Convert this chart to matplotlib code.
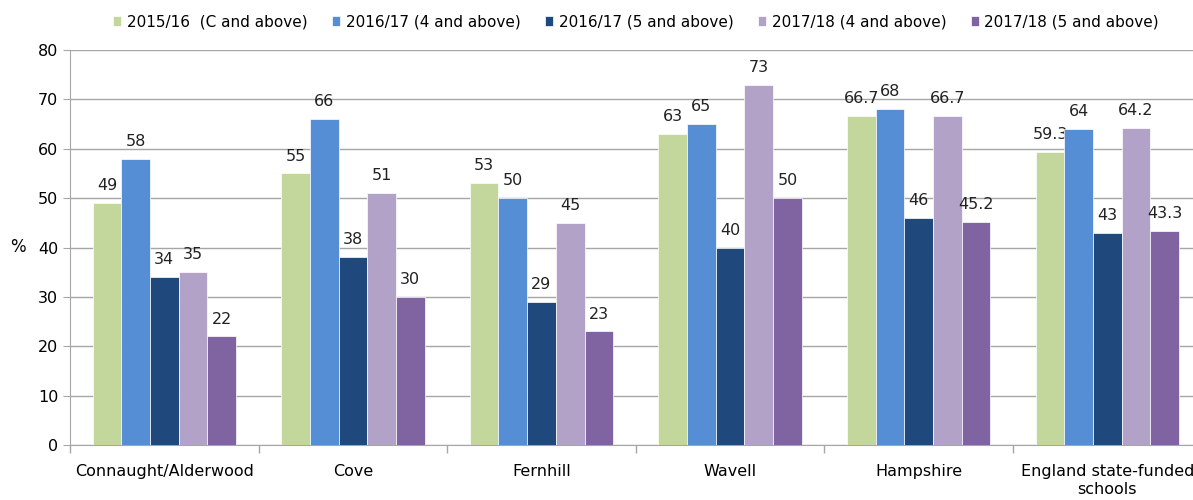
import matplotlib.pyplot as plt
import numpy as np

# Chart data
schools = ['Connaught/Alderwood', 'Cove', 'Fernhill', 'Wavell', 'Hampshire',
           'England state-funded\nschools']
series_names = ['2015/16  (C and above)', '2016/17 (4 and above)', '2016/17 (5 and above)',
                '2017/18 (4 and above)', '2017/18 (5 and above)']
s1516_c = [49, 55, 53, 63, 66.7, 59.3]
s1617_4 = [58, 66, 50, 65, 68, 64]
s1617_5 = [34, 38, 29, 40, 46, 43]
s1718_4 = [35, 51, 45, 73, 66.7, 64.2]
s1718_5 = [22, 30, 23, 50, 45.2, 43.3]
labels = [['49', '55', '53', '63', '66.7', '59.3'],
          ['58', '66', '50', '65', '68', '64'],
          ['34', '38', '29', '40', '46', '43'],
          ['35', '51', '45', '73', '66.7', '64.2'],
          ['22', '30', '23', '50', '45.2', '43.3']]
colors = ['#C3D69B', '#558ED5', '#1F497D', '#B3A2C7', '#8064A2']

all_series = [s1516_c, s1617_4, s1617_5, s1718_4, s1718_5]

fs = 11.5
fig = plt.figure(figsize=(11.93, 5.0), dpi=100)
ax = fig.add_axes([70 / 1193, 55 / 500, 1131.6 / 1193, 395 / 500])

x = np.arange(len(schools))
bw = 0.152
for i, vals in enumerate(all_series):
    pos = x + (i - 2) * bw
    ax.bar(pos, vals, bw, color=colors[i], edgecolor='white', linewidth=0.5,
           label=series_names[i], zorder=3)
    for p, v, t in zip(pos, vals, labels[i]):
        ax.text(p, v + 2.0, t, ha='center', va='bottom', fontsize=fs, color='#222222')

ax.set_xlim(-0.5, len(schools) - 0.5)
ax.set_ylim(0, 80)
ax.set_yticks(range(0, 81, 10))
ax.yaxis.grid(True, color='#A6A6A6', linewidth=1, zorder=0)
ax.set_xticks(x)
ax.set_xticklabels(schools, fontsize=fs, linespacing=1.25)
ax.set_xticks(np.arange(-0.5, len(schools), 1), minor=True)
ax.tick_params(axis='x', which='major', length=0, pad=14)
ax.tick_params(axis='x', which='minor', length=6, color='#A6A6A6', width=1)
ax.tick_params(axis='y', length=5, color='#A6A6A6', labelsize=fs)

for side in ['top', 'right']:
    ax.spines[side].set_visible(False)
for side in ['left', 'bottom']:
    ax.spines[side].set_color('#A6A6A6')

ax.set_ylabel('%', rotation=0, fontsize=12, labelpad=14, va='center')

ax.legend(loc='upper center', bbox_to_anchor=(566 / 1131.6, 1.125), ncol=5, frameon=False,
          fontsize=11, handlelength=0.55, handleheight=0.55, handletextpad=0.35,
          columnspacing=1.6)

fig.savefig('out.png', dpi=100)
